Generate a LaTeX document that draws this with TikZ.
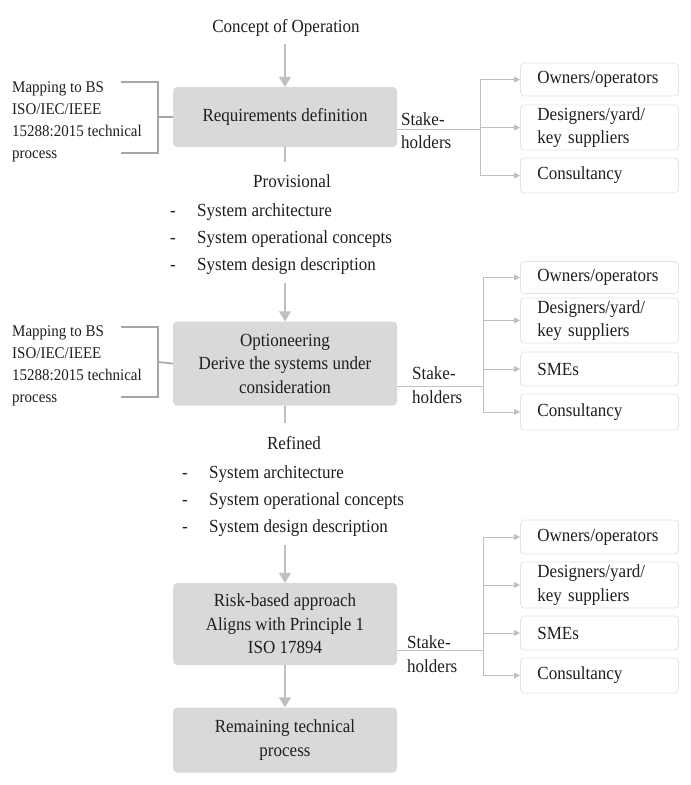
\documentclass[tikz,border=0pt]{standalone}
\usepackage{fontspec}
\setmainfont{Liberation Serif}[FakeStretch=0.92]
\usetikzlibrary{arrows.meta,positioning}

\definecolor{boxgray}{HTML}{D9D9D9}
\definecolor{linegray}{HTML}{BFBFBF}
\definecolor{bracegray}{HTML}{A6A6A6}
\definecolor{rimgray}{HTML}{E4E4E4}
\definecolor{ink}{HTML}{1E1E1E}

\newcommand{\mainsize}{\fontsize{18.5}{23.5}\selectfont}
\newcommand{\mapsize}{\fontsize{16.3}{22}\selectfont}
\newcommand{\outitems}{\renewcommand{\arraystretch}{1.15}%
  \begin{tabular}{@{}p{27pt}@{}l@{}}
  - & System architecture\\
  - & System operational concepts\\
  - & System design description
  \end{tabular}}

\tikzset{
  stage/.style={fill=boxgray, rounded corners=4pt, minimum width=224pt, align=center, inner sep=0pt},
  party/.style={draw=rimgray, line width=0.8pt, fill=white, rounded corners=4pt, anchor=west,
    text width=124pt, inner xsep=17pt, inner ysep=0pt, align=left},
  stake/.style={anchor=west, align=left, inner sep=0pt},
  maplabel/.style={anchor=west, align=left, inner sep=0pt, font=\mapsize},
  outlist/.style={anchor=north west, inner sep=0pt},
  flow/.style={draw=linegray, line width=1.4pt, -{Triangle[length=10pt,width=12pt]}},
  link/.style={draw=linegray, line width=1.4pt},
  tie/.style={draw=linegray, line width=0.8pt},
  fork/.style={draw=linegray, line width=0.8pt, -{Triangle[length=6pt,width=6pt]}},
  brace/.style={draw=bracegray, line width=1.6pt},
}

\begin{document}
\begin{tikzpicture}[x=1pt, y=-1pt, font=\mainsize, text=ink]
\useasboundingbox (0,0) rectangle (691,785);

% main column
\node[inner sep=0pt] (conops) at (286,28) {Concept of Operation};
\node[stage, minimum height=60pt] (req) at (285,117) {Requirements definition};
\node[stage, minimum height=84pt] (opt) at (285,363.5) {Optioneering\\Derive the systems under\\consideration};
\node[stage, minimum height=82pt] (risk) at (285,624) {Risk-based approach\\Aligns with Principle 1\\ISO 17894};
\node[stage, minimum height=65pt] (rest) at (285,740) {Remaining technical\\process};

% outputs between the stages
\node[inner sep=0pt] (prov) at (292,181) {Provisional};
\node[outlist] (provlist) at (170,197) {\outitems};
\node[inner sep=0pt] (refd) at (294,443) {Refined};
\node[outlist] (refdlist) at (182,459) {\outitems};

\draw[flow, shorten <=7pt] (conops.south -| req.north) -- (req.north);
\draw[link] (req.south) -- ++(0,15);
\draw[flow, shorten <=5pt] (provlist.south -| opt.north) -- (opt.north);
\draw[link] (opt.south) -- ++(0,17);
\draw[flow, shorten <=5pt] (refdlist.south -| risk.north) -- (risk.north);
\draw[flow] (risk) -- (rest);

% mapping to the standard
\node[maplabel] (map1) at (12,122) {Mapping to BS\\ISO/IEC/IEEE\\15288:2015 technical\\process};
\draw[brace] (121,82) -| (158,153) -- (121,153);
\draw[brace] (158,117) -- (req.west);

\node[maplabel] (map2) at (12,366) {Mapping to BS\\ISO/IEC/IEEE\\15288:2015 technical\\process};
\draw[brace] (121,327) -| (158,397) -- (121,397);
\draw[brace] (158,362) -- (opt.west);

% stakeholders of requirements definition
\node[stake] (sh1) at (401,130.5) {Stake-\\holders};
\node[party, minimum height=33pt] (own1) at (520,79.5) {Owners/operators};
\node[party, minimum height=45pt] (des1) at (520,127.5) {Designers/yard/\\key suppliers};
\node[party, minimum height=35pt] (con1) at (520,175.5) {Consultancy};
\coordinate (t1) at (480,129);
\draw[tie] ([yshift=-12pt]req.east) -- (t1);
\draw[tie] (t1 |- own1.west) -- (t1 |- con1.west);
\foreach \p in {own1,des1,con1} \draw[fork] (t1 |- \p.west) -- (\p.west);

% stakeholders of optioneering
\node[stake] (sh2) at (412,385) {Stake-\\holders};
\node[party, minimum height=32pt] (own2) at (520,277.5) {Owners/operators};
\node[party, minimum height=45pt] (des2) at (520,320.5) {Designers/yard/\\key suppliers};
\node[party, minimum height=34pt] (sme2) at (520,369) {SMEs};
\node[party, minimum height=36pt] (con2) at (520,412) {Consultancy};
\coordinate (t2) at (483,386);
\draw[tie] ([yshift=-22.5pt]opt.east) -- (t2);
\draw[tie] (t2 |- own2.west) -- (t2 |- con2.west);
\foreach \p in {own2,des2,sme2,con2} \draw[fork] (t2 |- \p.west) -- (\p.west);

% stakeholders of the risk-based approach
\node[stake] (sh3) at (407,654) {Stake-\\holders};
\node[party, minimum height=34pt] (own3) at (520,537) {Owners/operators};
\node[party, minimum height=46pt] (des3) at (520,585) {Designers/yard/\\key suppliers};
\node[party, minimum height=34pt] (sme3) at (520,633) {SMEs};
\node[party, minimum height=35pt] (con3) at (520,675.5) {Consultancy};
\coordinate (t3) at (483,650);
\draw[tie] ([yshift=-26pt]risk.east) -- (t3);
\draw[tie] (t3 |- own3.west) -- (t3 |- con3.west);
\foreach \p in {own3,des3,sme3,con3} \draw[fork] (t3 |- \p.west) -- (\p.west);
\end{tikzpicture}
\end{document}
